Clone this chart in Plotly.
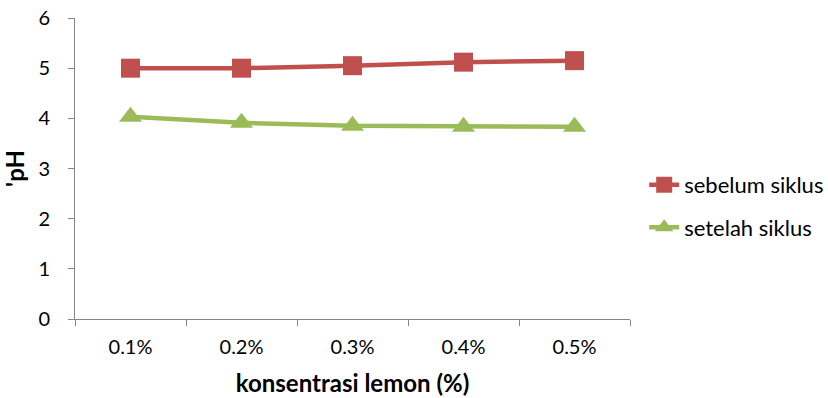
import plotly.graph_objects as go

categories = ["0.1%", "0.2%", "0.3%", "0.4%", "0.5%"]
ph_sebelum = [5.00, 5.00, 5.05, 5.12, 5.15]
ph_setelah = [4.03, 3.91, 3.85, 3.83, 3.83]

font_family = "Lato, 'Open Sans', 'Liberation Sans', sans-serif"

fig = go.Figure()
fig.add_trace(go.Scatter(
    x=categories, y=ph_sebelum, name="sebelum siklus", legendgroup="a",
    mode="lines+markers",
    line=dict(color="#C0504D", width=4.5),
    marker=dict(symbol="square", size=19, color="#C0504D"),
))
fig.add_trace(go.Scatter(
    x=categories, y=ph_setelah, name="setelah siklus", legendgroup="b",
    mode="lines+markers",
    line=dict(color="#9BBB59", width=4.5),
    marker=dict(symbol="triangle-up", size=20, color="#9BBB59"),
))

fig.update_layout(
    width=828, height=398,
    margin=dict(l=75, r=198, t=18, b=79, autoexpand=False),
    paper_bgcolor="white", plot_bgcolor="white",
    font=dict(family=font_family, size=20, color="black"),
    legend=dict(xref="container", x=0.778, y=0.374, xanchor="left", yanchor="middle",
                tracegroupgap=11, itemwidth=30,
                font=dict(size=22)),
    xaxis=dict(
        type="category", range=[-0.5, 4.5], automargin=False,
        showline=True, linecolor="#868686", linewidth=1,
        ticks="outside", tickson="boundaries", ticklen=6, tickcolor="#868686",
        ticklabelstandoff=10,
        showgrid=False,
        title=dict(text="<b>konsentrasi lemon (%)</b>", standoff=18),
    ),
    yaxis=dict(
        range=[0, 6], dtick=1, automargin=False,
        showline=True, linecolor="#868686", linewidth=1,
        ticks="outside", ticklen=6, tickcolor="#868686",
        ticklabelstandoff=14,
        showgrid=False, zeroline=False,
        title=dict(text="<b>'pH</b>", standoff=7),
    ),
)

fig.write_html("out.html")
